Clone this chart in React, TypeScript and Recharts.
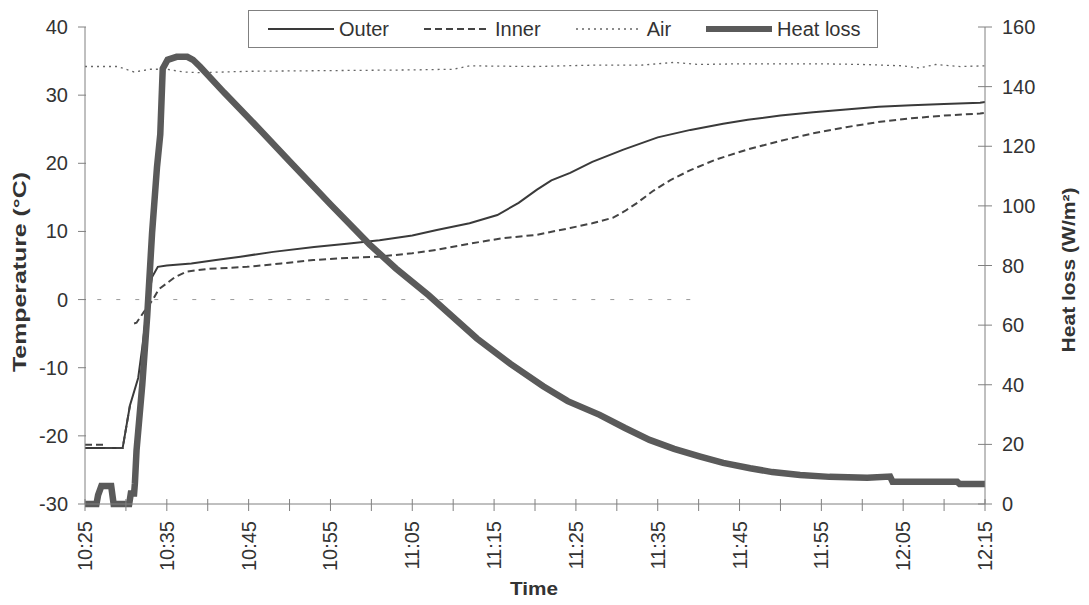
import { LineChart, Line, XAxis, YAxis } from "recharts";

// minutes after 10:25 on the x axis
const TIME_TICKS = [0, 5, 10, 15, 20, 25, 30, 35, 40, 45, 50, 55, 60, 65, 70, 75, 80, 85, 90, 95, 100, 105, 110];
const TIME_LABELS = ["10:25", "10:35", "10:45", "10:55", "11:05", "11:15", "11:25", "11:35", "11:45", "11:55", "12:05", "12:15"];
const TEMP_TICKS = [-30, -20, -10, 0, 10, 20, 30, 40];
const HEAT_TICKS = [0, 20, 40, 60, 80, 100, 120, 140, 160];

// [minute, °C]
const OUTER: [number, number | null][] = [
  [0, -21.8], [4.6, -21.8], [5.5, -15.5], [6.5, -11.5], [7, -7], [7.6, -1], [8.2, 3.3], [8.9, 4.8],
  [10, 5], [13, 5.3], [16, 5.8], [19, 6.3], [23, 7], [28, 7.7], [32, 8.2], [36, 8.7], [40, 9.4],
  [43, 10.2], [47, 11.2], [50.4, 12.4], [53, 14.2], [55.2, 16.1], [57, 17.5], [59.3, 18.6], [62, 20.2],
  [65.8, 22], [70, 23.8], [74, 24.9], [78, 25.8], [81, 26.4], [85, 27], [89, 27.5], [93, 27.9],
  [97, 28.3], [101, 28.5], [105, 28.7], [109.4, 28.9], [110, 29],
];

// inner sensor hides behind the outer trace during the jump, so there is a gap
const INNER: [number, number | null][] = [
  [0, -21.3], [2.2, -21.3], [2.5, -21.8], [4.6, -21.8], [5.5, -15.5], [5.8, null], [6.0, -3.5], [6.3, -3.4],
  [7.2, -1.8], [8.3, 0], [9, 1.5], [10, 2.4], [11, 3.3], [12.4, 4.1], [15, 4.5], [19.8, 4.8],
  [24, 5.3], [27.9, 5.8], [32, 6.1], [36, 6.3], [40, 6.8], [43, 7.3], [47, 8.2], [51, 9],
  [55.2, 9.5], [59.3, 10.5], [62, 11.2], [64.5, 12], [66, 13], [67.5, 14.2], [69.5, 16],
  [71.5, 17.5], [74, 19], [77, 20.5], [80.9, 22], [85, 23.3], [89, 24.4], [93, 25.3],
  [97.2, 26.1], [101, 26.6], [105, 27], [109.4, 27.3], [110, 27.4],
];

const AIR: [number, number | null][] = [
  [0, 34.2], [4, 34.2], [5, 33.8], [6, 33.4], [8, 33.8], [10, 33.8], [12, 33.4], [14, 33.3],
  [20, 33.5], [30, 33.6], [40, 33.7], [45, 33.8], [47, 34.3], [55, 34.2], [62, 34.4], [68, 34.4],
  [72, 34.8], [75, 34.5], [80, 34.6], [90, 34.6], [95, 34.5], [100, 34.3], [102, 34], [104, 34.5],
  [107, 34.2], [110, 34.3],
];

// [minute, W/m²]
const HEAT: [number, number | null][] = [
  [0, 0], [1.4, 0], [1.6, 3], [2, 6], [3.2, 6], [3.5, 0], [5.4, 0], [5.6, 3.5], [6, 3.5], [6.1, 7],
  [6.3, 18], [7, 40], [7.6, 63], [8.2, 91], [8.8, 113], [9.2, 124], [9.5, 146], [10.1, 149],
  [11.2, 150], [12.5, 150], [13.2, 149], [14.1, 146.6], [17, 138], [20, 129.5], [25, 115],
  [30, 100.5], [34.8, 87], [38, 79], [42, 70], [47.9, 55.5], [52, 47], [56, 39.5], [59, 34.5],
  [62.9, 29.9], [66, 25.5], [69, 21.5], [72, 18.5], [75.2, 15.9], [78, 13.8], [81.3, 12],
  [84, 10.7], [87.4, 9.7], [91, 9.1], [95.6, 8.8], [98.4, 9.2], [98.7, 7.5], [106.6, 7.5],
  [106.9, 6.7], [110, 6.7],
];

// faint dashed zero line
const ZERO: [number, number | null][] = [[1.5, 0], [74.3, 0]];

const toPoints = (rows: [number, number | null][]) => rows.map(([t, v]) => ({ t, v }));

const SERIES = [
  { name: "Outer", rows: OUTER, axis: "temp", color: "#3a3a3a", width: 2, dash: undefined },
  { name: "Inner", rows: INNER, axis: "temp", color: "#444", width: 2, dash: "7 4" },
  { name: "Air", rows: AIR, axis: "temp", color: "#666", width: 1.3, dash: "2 4" },
  { name: "Heat loss", rows: HEAT, axis: "heat", color: "#5a5a5a", width: 6.5, dash: undefined },
];

const FONT = '"Liberation Sans", Arial, sans-serif';
const AXIS = "#808080";
const TEXT = "#333";

const TimeTick = ({ x, y, payload }: any) => {
  const v = payload.value;
  const label = v % 10 === 0 ? TIME_LABELS[v / 10] : "";
  return (
    <g>
      <line x1={x} x2={x} y1={y - 13} y2={y - 1} stroke={AXIS} />
      {label && (
        <text x={x} y={y + 9} transform={`rotate(-90 ${x} ${y + 9})`} textAnchor="end"
          dominantBaseline="central" fontSize={20} fill={TEXT} fontFamily={FONT}>
          {label}
        </text>
      )}
    </g>
  );
};

const TempTick = ({ x, y, payload }: any) => (
  <g>
    <line x1={x + 10} x2={x + 18} y1={y} y2={y} stroke={AXIS} />
    <text x={x} y={y} textAnchor="end" dominantBaseline="central" fontSize={20} fill={TEXT} fontFamily={FONT}>
      {payload.value}
    </text>
  </g>
);

const HeatTick = ({ x, y, payload }: any) => (
  <g>
    <line x1={x - 24} x2={x - 10} y1={y} y2={y} stroke={AXIS} />
    <text x={x} y={y} textAnchor="start" dominantBaseline="central" fontSize={20} fill={TEXT} fontFamily={FONT}>
      {payload.value}
    </text>
  </g>
);

const LegendBox = () => (
  <div
    style={{
      position: "absolute", left: 248, top: 10, width: 630, height: 38, border: `1px solid ${AXIS}`,
      display: "flex", alignItems: "center", paddingLeft: 19, boxSizing: "border-box",
      fontFamily: FONT, fontSize: 20, color: TEXT, background: "#fff",
    }}
  >
    {SERIES.map((s, i) => (
      <div key={s.name} style={{ display: "flex", alignItems: "center", marginLeft: i === 0 ? 0 : 35 }}>
        <svg width={66} height={12}>
          <line x1={0} x2={66} y1={6} y2={6} stroke={s.color}
            strokeWidth={s.name === "Heat loss" ? 6 : s.width} strokeDasharray={s.dash} />
        </svg>
        <span style={{ marginLeft: 5 }}>{s.name}</span>
      </div>
    ))}
  </div>
);

export default function App() {
  return (
    <div style={{ position: "absolute", left: 0, top: 0, width: 1089, height: 605, background: "#fff" }}>
      <LineChart width={1089} height={605} margin={{ top: 27, right: 0, bottom: 0, left: 0 }}>
        <XAxis
          type="number" dataKey="t" domain={[0, 110]} ticks={TIME_TICKS} interval={0}
          height={101} stroke={AXIS} tickLine={false} tickSize={6} tickMargin={2} tick={<TimeTick />}
          label={{
            value: "Time",
            content: () => (
              <text x={534} y={595} textAnchor="middle" fontSize={18} fontWeight="bold" fill={TEXT}
                fontFamily={FONT} textLength={48} lengthAdjust="spacingAndGlyphs">Time</text>
            ),
          }}
        />
        <YAxis
          yAxisId="temp" orientation="left" width={85} domain={[-30, 40]} ticks={TEMP_TICKS} interval={0}
          stroke={AXIS} tickLine={false} tickSize={7} tickMargin={10} tick={<TempTick />}
          label={{
            value: "Temperature (°C)",
            content: () => (
              <text x={20} y={272} transform="rotate(-90 20 272)" textAnchor="middle" dominantBaseline="central"
                fontSize={18} fontWeight="bold" fill={TEXT} fontFamily={FONT}
                textLength={200} lengthAdjust="spacingAndGlyphs">Temperature (°C)</text>
            ),
          }}
        />
        <YAxis
          yAxisId="heat" orientation="right" width={104} domain={[0, 160]} ticks={HEAT_TICKS} interval={0}
          stroke={AXIS} tickLine={false} tickSize={7} tickMargin={10} tick={<HeatTick />}
          label={{
            value: "Heat loss (W/m²)",
            content: () => (
              <text x={1069} y={270} transform="rotate(-90 1069 270)" textAnchor="middle" dominantBaseline="central"
                fontSize={18} fontWeight="bold" fill={TEXT} fontFamily={FONT}
                textLength={165} lengthAdjust="spacingAndGlyphs">Heat loss (W/m²)</text>
            ),
          }}
        />
        <Line yAxisId="temp" data={toPoints(ZERO)} dataKey="v" stroke="#999" strokeWidth={1}
          strokeDasharray="4 15" dot={false} isAnimationActive={false} legendType="none" />
        {SERIES.map((s) => (
          <Line
            key={s.name} name={s.name} yAxisId={s.axis} data={toPoints(s.rows)} dataKey="v"
            type="linear" stroke={s.color} strokeWidth={s.width} strokeDasharray={s.dash}
            dot={false} activeDot={false} connectNulls={false} isAnimationActive={false}
          />
        ))}
      </LineChart>
      <LegendBox />
    </div>
  );
}
